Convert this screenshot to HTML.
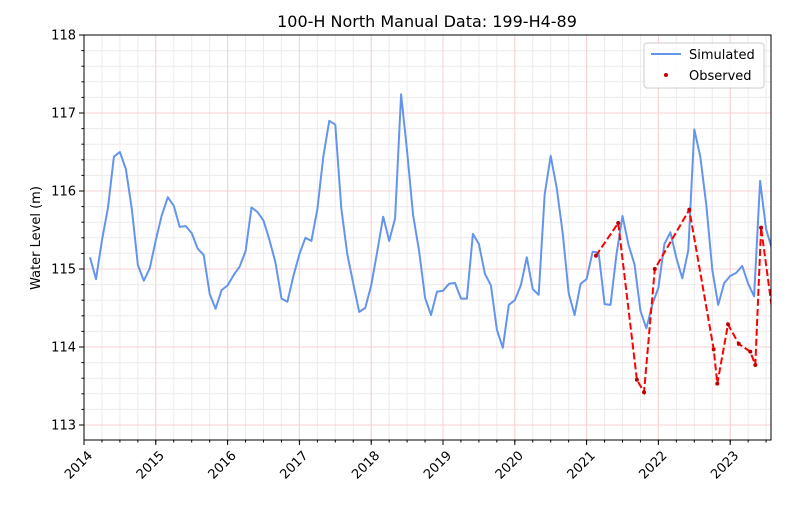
<!DOCTYPE html>
<html><head><meta charset="utf-8"><style>
body{margin:0;background:#fff;font-family:"Liberation Sans","DejaVu Sans",sans-serif}
svg text{font-family:"DejaVu Sans","Liberation Sans",sans-serif}
</style></head><body>
<svg id="chart" width="800" height="500" xmlns="http://www.w3.org/2000/svg"></svg>
<script>
const simStart = 2014 + 1/12;
const simValues = [115.15,114.87,115.37,115.78,116.44,116.50,116.28,115.76,115.05,114.85,115.01,115.37,115.69,115.92,115.81,115.54,115.55,115.46,115.26,115.18,114.68,114.49,114.73,114.79,114.92,115.03,115.23,115.79,115.73,115.62,115.37,115.08,114.62,114.58,114.91,115.19,115.40,115.36,115.77,116.44,116.90,116.85,115.78,115.19,114.81,114.45,114.50,114.79,115.22,115.67,115.36,115.65,117.24,116.51,115.69,115.23,114.63,114.41,114.71,114.72,114.81,114.82,114.62,114.62,115.45,115.32,114.94,114.79,114.22,113.99,114.54,114.60,114.79,115.15,114.74,114.67,115.96,116.45,116.04,115.46,114.69,114.41,114.81,114.87,115.22,115.21,114.55,114.54,115.19,115.68,115.31,115.06,114.46,114.24,114.55,114.76,115.32,115.47,115.14,114.88,115.24,116.79,116.44,115.82,114.99,114.54,114.82,114.91,114.95,115.04,114.81,114.65,116.13,115.51,115.25];
const obsDates = [2021.13,2021.44,2021.70,2021.80,2021.95,2022.43,2022.77,2022.82,2022.97,2023.12,2023.28,2023.35,2023.43,2023.66];
const obsValues = [115.17,115.59,113.58,113.42,115.00,115.76,113.97,113.53,114.29,114.04,113.94,113.77,115.53,113.95];
const xTicks = [2014,2015,2016,2017,2018,2019,2020,2021,2022,2023];
const yTicks = [113,114,115,116,117,118];

const L=84,R=771,T=35,B=440;
const X0=2014,X1=2014+(R-L)/71.8;
const Y0=118+(B-T)/78*0 - (B-T)/78, Y1=118;
function xs(v){return L+(v-X0)/(X1-X0)*(R-L);}
function ys(v){return T+(Y1-v)/(Y1-Y0)*(B-T);}
const NS="http://www.w3.org/2000/svg";
const svg=document.getElementById('chart');
function el(t,a,p){const e=document.createElementNS(NS,t);for(const k in a)e.setAttribute(k,a[k]);(p||svg).appendChild(e);return e;}
const defs=el('defs',{});const cp=el('clipPath',{id:'clip'},defs);el('rect',{x:L,y:T,width:R-L,height:B-T},cp);
const grid=el('g',{});


// minor grid
for(let y=2014;y<X1;y+=0.25){const x=xs(y);el('line',{x1:x,x2:x,y1:T,y2:B,stroke:'#ececec','stroke-width':1},grid);}
for(let v=Math.ceil(Y0*5)/5;v<=Y1;v+=0.2){const y=ys(v);el('line',{x1:L,x2:R,y1:y,y2:y,stroke:'#ececec','stroke-width':1},grid);}
// major grid
xTicks.forEach(t=>{const x=xs(t);el('line',{x1:x,x2:x,y1:T,y2:B,stroke:'#f8d0d0','stroke-width':1},grid);});
yTicks.forEach(t=>{const y=ys(t);el('line',{x1:L,x2:R,y1:y,y2:y,stroke:'#f8d0d0','stroke-width':1},grid);});
// series
let d='';simValues.forEach((v,i)=>{d+=(i?'L':'M')+xs(simStart+i/12).toFixed(1)+','+ys(v).toFixed(1);});
const sim=el('path',{d:d,fill:'none',stroke:'#6495ed','stroke-width':2,'clip-path':'url(#clip)','stroke-linejoin':'round'});


let d2='';obsValues.forEach((v,i)=>{d2+=(i?'L':'M')+xs(obsDates[i]).toFixed(1)+','+ys(v).toFixed(1);});
const obs=el('path',{d:d2,fill:'none',stroke:'#ff0000','stroke-width':2,'stroke-dasharray':'7,3','clip-path':'url(#clip)'});


obsValues.forEach((v,i)=>{const c=el('circle',{cx:xs(obsDates[i]),cy:ys(v),r:2,fill:'#c00000','clip-path':'url(#clip)'});

});
// frame
el('rect',{x:L,y:T,width:R-L,height:B-T,fill:'none',stroke:'#000','stroke-width':1});
// ticks
xTicks.forEach(t=>{const x=xs(t);el('line',{x1:x,x2:x,y1:B,y2:B+5,stroke:'#000'});
const tx=el('text',{x:x+3,y:B+10,'font-size':13,'text-anchor':'end',transform:`rotate(-45 ${x+3} ${B+10})`,'dominant-baseline':'hanging'});tx.textContent=t;

});
for(let y=2014;y<X1;y+=0.25){const x=xs(y);el('line',{x1:x,x2:x,y1:B,y2:B+2.5,stroke:'#000'});}
yTicks.forEach(t=>{const y=ys(t);el('line',{x1:L-5,x2:L,y1:y,y2:y,stroke:'#000'});
const tx=el('text',{x:L-8,y:y+4.5,'font-size':13,'text-anchor':'end'});tx.textContent=t;

});
for(let v=Math.ceil(Y0*5)/5;v<=Y1;v+=0.2){const y=ys(v);el('line',{x1:L-2.5,x2:L,y1:y,y2:y,stroke:'#000'});}
const ttl=el('text',{x:427,y:27,'font-size':16,'text-anchor':'middle'});ttl.textContent='100-H North Manual Data: 199-H4-89';


const yl=el('text',{x:40,y:238,'font-size':13,'text-anchor':'middle',transform:'rotate(-90 40 238)'});yl.textContent='Water Level (m)';


// legend
const lg=el('g',{});


el('rect',{x:644,y:43,width:120,height:45,rx:3,fill:'#fff','fill-opacity':0.85,stroke:'#ccc'},lg);
el('line',{x1:651,x2:681,y1:54,y2:54,stroke:'#6495ed','stroke-width':2},lg);
const t1=el('text',{x:689,y:59,'font-size':13},lg);t1.textContent='Simulated';


el('circle',{cx:666,cy:75,r:2,fill:'#c00000'},lg);
const t2=el('text',{x:689,y:80,'font-size':13},lg);t2.textContent='Observed';


</script>
</body></html>
